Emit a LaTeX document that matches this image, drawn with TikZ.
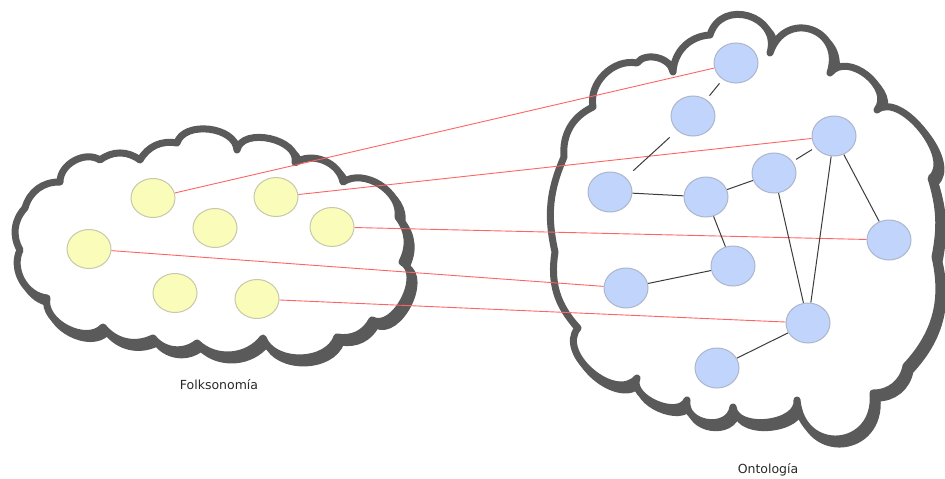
\documentclass[tikz,border=0pt]{standalone}
\usepackage{fontspec}
\setmainfont{DejaVu Sans}
\usetikzlibrary{shapes.geometric}
\definecolor{cloudgray}{RGB}{90,90,90}
\definecolor{yfill}{RGB}{250,252,185}
\definecolor{ydraw}{RGB}{200,200,170}
\definecolor{bfill}{RGB}{193,212,252}
\definecolor{bdraw}{RGB}{172,182,204}
\definecolor{redline}{RGB}{255,100,100}
\definecolor{darkline}{RGB}{60,60,60}
\definecolor{labeltext}{RGB}{40,40,40}
\pgfdeclarelayer{cloudlayer}
\pgfdeclarelayer{linklayer}
\pgfsetlayers{cloudlayer,linklayer,main}
\tikzset{
  cloudline/.style={draw=cloudgray, line width=7pt, line join=round},
  cloudshadow/.style={cloudline, xshift=4pt, yshift=-5pt},
  cloudmain/.style={cloudline, fill=white},
  leftcloud/.style={insert path={
    (20,250) to[bend left=36] (25,208) to[bend left=38] (60,182) to[bend left=62] (100,160)
    to[bend left=37] (140,160) to[bend left=35] (177,143) to[bend left=80] (237,150)
    to[bend left=90,looseness=1.05] (295,163) to[bend left=58] (343,182) to[bend left=66] (398,217)
    to[bend left=32] (402,262) to[bend left=90,looseness=1.0] (372,320) to[bend left=36] (337,337)
    to[bend left=70] (263,338) to[bend left=48] (197,343) to[bend left=45] (153,338)
    to[bend left=38] (103,327) to[bend left=75] (47,298) to[bend left=55] cycle}},
  rightcloud/.style={insert path={
    (578,328) to[bend left=26] (555,252) to[bend left=18] (564,157) to[bend left=35] (593,107)
    to[bend left=56] (637,63) to[bend left=68] (673,72) to[bend left=42] (710,35)
    to[bend left=90,looseness=1.6] (770,53) to[bend left=90,looseness=1.9] (830,73)
    to[bend left=90,looseness=1.2] (877,110) to[bend left=90,looseness=0.9] (931,178)
    to[bend left=14] (935,257) to[bend left=28] (906,366) to[bend left=40] (873,393)
    to[bend left=90,looseness=1.9] (797,400) to[bend left=90,looseness=1.0] (733,407)
    to[bend left=90,looseness=1.4] (687,400) to[bend left=90,looseness=1.0] (637,378)
    to[bend left=90,looseness=1.1] cycle}},
  ynode/.style={ellipse, fill=yfill, draw=ydraw, line width=1pt, minimum width=44pt, minimum height=39pt, inner sep=0pt},
  bnode/.style={ellipse, fill=bfill, draw=bdraw, line width=1pt, minimum width=44pt, minimum height=40pt, inner sep=0pt},
  redlink/.style={draw=redline, line width=0.9pt},
  blink/.style={draw=darkline, line width=1pt},
  cloudlabel/.style={text=labeltext, font=\fontsize{12.5}{15}\selectfont, inner sep=0pt}
}
\begin{document}
\begin{tikzpicture}[x=1pt,y=-1pt]
\useasboundingbox (0,0) rectangle (945,479);
% clouds
\begin{pgfonlayer}{cloudlayer}
\path[cloudshadow, leftcloud];
\path[cloudmain, leftcloud];
\path[cloudshadow, rightcloud];
\path[cloudmain, rightcloud];
\end{pgfonlayer}
% yellow nodes
\path (153,198) node[ynode] (y1) {}
      (276,197) node[ynode] (y2) {}
      (215,228) node[ynode] (y3) {}
      (332,227) node[ynode] (y4) {}
      (89,249)  node[ynode] (y5) {}
      (175,293) node[ynode] (y6) {}
      (257,299) node[ynode] (y7) {};
% blue nodes
\path (736,63)  node[bnode] (b1) {}
      (693,116) node[bnode] (b2) {}
      (834,136) node[bnode] (b3) {}
      (774,173) node[bnode] (b4) {}
      (610,192) node[bnode] (b5) {}
      (706,197) node[bnode] (b6) {}
      (889,240) node[bnode] (b7) {}
      (733,266) node[bnode] (b8) {}
      (626,288) node[bnode] (b9) {}
      (808,323) node[bnode] (b10) {}
      (717,368) node[bnode] (b11) {};
% labels
\node[cloudlabel] (lf) at (219,385) {Folksonomía};
\node[cloudlabel] (lo) at (768,470) {Ontología};
% links
\begin{pgfonlayer}{linklayer}
\draw[redlink] (y1) -- (b1);
\draw[redlink] (y2) -- (b3);
\draw[redlink] (y4) -- (b7);
\draw[redlink] (y5) -- (b9);
\draw[redlink] (y7) -- (b10);
\draw[blink, shorten <=5pt, shorten >=5pt] (b1) -- (b2);
\draw[blink, shorten <=10pt, shorten >=10pt] (b2) -- (b5);
\draw[blink] (b5) -- (b6);
\draw[blink] (b6) -- (b4);
\draw[blink, shorten <=4pt, shorten >=4pt] (b4) -- (b3);
\draw[blink] (b6) -- (b8);
\draw[blink] (b8) -- (b9);
\draw[blink] (b4) -- (b10);
\draw[blink] (b3) -- (b10);
\draw[blink] (b3) -- (b7);
\draw[blink] (b10) -- (b11);
\end{pgfonlayer}
\end{tikzpicture}
\end{document}
